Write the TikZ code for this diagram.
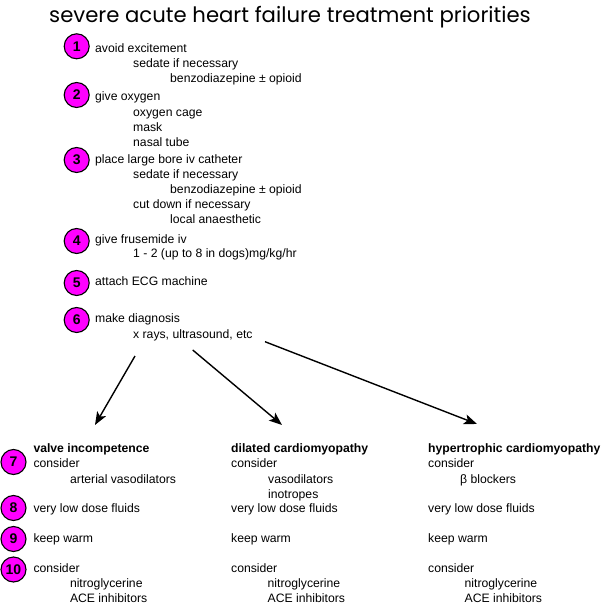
\documentclass[tikz,border=0pt]{standalone}
\usepackage{fontspec}
\setmainfont{Liberation Sans}
\newfontfamily\titlefont{Poppins}
\usetikzlibrary{arrows.meta}
\definecolor{badgepink}{RGB}{255,0,255}

\begin{document}
\begin{tikzpicture}[x=1pt, y=-1pt,
        badge/.style={circle, draw=black, line width=1.1pt, fill=badgepink, minimum size=25pt, inner sep=0pt, font=\fontsize{14}{14}\selectfont\bfseries},
        line/.style={anchor=mid west, inner sep=0pt, yshift=-1.5pt, font=\fontsize{12.2}{14}\selectfont},
        head/.style={line, font=\fontsize{12.2}{14}\selectfont\bfseries},
        pointer/.style={line width=1.4pt, -{Stealth[length=13pt, width=10pt, inset=3pt]}}]
        \useasboundingbox (0,0) rectangle (600,607);

        % Title
        \node[font=\titlefont\fontsize{21.2}{21}\selectfont] (title) at (290,17) {severe acute heart failure treatment priorities};

        % Numbered badges
        \foreach \n/\x/\y in {1/76.7/46.3, 2/76.7/95, 3/76.7/160, 4/76.7/241, 5/76.7/283, 6/76.7/320,
                              7/13.5/462, 8/13.5/508, 9/13.5/539, 10/13.5/569.5}
            \node[badge] (b\n) at (\x,\y) {\n};

        % Steps 1-6
        \foreach \x/\y/\t [count=\i] in {95/48/avoid excitement, 133/63/sedate if necessary, 170/78/benzodiazepine ± opioid,
                                         95/96.5/give oxygen, 133/112/oxygen cage, 133/127/mask, 133/142/nasal tube,
                                         95/159.5/place large bore iv catheter, 133/174/sedate if necessary, 170/189/benzodiazepine ± opioid,
                                         133/204/cut down if necessary, 170/219.5/local anaesthetic,
                                         95/239/give frusemide iv, 133/253.5/{1 - 2 (up to 8 in dogs)mg/kg/hr},
                                         95/281/attach ECG machine, 95/318.5/make diagnosis}
            \node[line] (s\i) at (\x,\y) {\t};
        \node[line] (diag) at (133,334) {x rays, ultrasound, etc};

        % Diagnoses
        \node[head] (vi) at (33.3,448) {valve incompetence};
        \node[head] (dc) at (231,448) {dilated cardiomyopathy};
        \node[head] (hc) at (428,448) {hypertrophic cardiomyopathy};

        \coordinate (vi0) at (135,356);
        \coordinate (dc0) at (192.7,350);
        \coordinate (hc0) at (265,341.7);
        \coordinate (vi1) at (95,425);
        \coordinate (dc1) at (282,425);
        \coordinate (hc1) at (477,424);
        \foreach \p in {vi, dc, hc}
            \draw[pointer] (\p0) -- (\p1);

        % Steps 7-10, one column per diagnosis
        \foreach \p/\x in {vi/33.3, dc/231, hc/428} {
            \node[line] (\p-con) at (\x,463) {consider};
            \node[line] (\p-flu) at (\x,508) {very low dose fluids};
            \node[line] (\p-war) at (\x,538) {keep warm};
            \node[line] (\p-con2) at (\x,568) {consider};
            \node[line] (\p-nit) at (\x+36.5,583) {nitroglycerine};
            \node[line] (\p-ace) at (\x+36.5,598) {ACE inhibitors};
        }
        \node[line] (vi-drug) at (70,479) {arterial vasodilators};
        \node[line] (dc-drug) at (268,479) {vasodilators};
        \node[line] (dc-ino) at (268,494) {inotropes};
        \node[line] (hc-drug) at (460,479) {β blockers};
    \end{tikzpicture}
\end{document}
